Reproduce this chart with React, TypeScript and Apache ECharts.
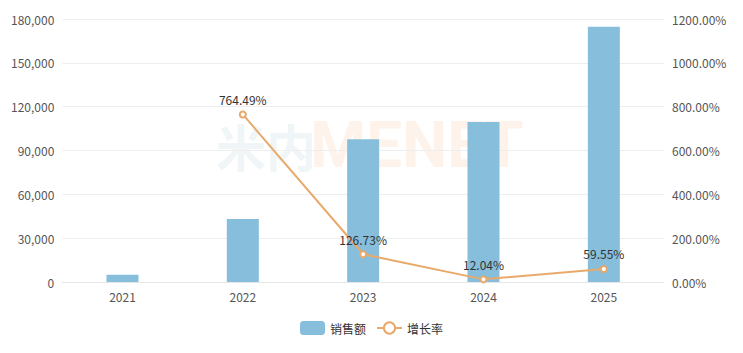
import React, { useEffect, useRef } from "react";
import * as echarts from "echarts";

const categories = ["2021", "2022", "2023", "2024", "2025"];
const salesValues = [4985, 43095, 97712, 109477, 174671];
const growthValues = [null, 764.49, 126.73, 12.04, 59.55];

export default function App() {
  const ref = useRef<HTMLDivElement>(null);
  useEffect(() => {
    const chart = echarts.init(ref.current!, null, { renderer: "svg" });
    chart.setOption({
      animation: false,
      textStyle: { fontFamily: "'Microsoft YaHei', 'Noto Sans CJK SC', sans-serif" },
      grid: { left: 54, right: 71, top: 11, bottom: 63 },
      graphic: [
        {
          type: "text",
          left: 208,
          top: 112,
          z: 0,
          style: {
            text: "米内",
            fontSize: 50,
            fontWeight: "bold",
            fontFamily: "'Noto Sans CJK SC', sans-serif",
            fill: "rgba(225,236,240,0.5)",
          },
        },
        {
          type: "text",
          left: 302,
          top: 105,
          z: 0,
          style: {
            text: "MENET",
            fontSize: 64,
            fontWeight: "bold",
            fontFamily: "Roboto, sans-serif",
            fill: "rgba(253,232,216,0.5)",
          },
        },
      ],
      legend: {
        bottom: 5,
        left: "center",
        itemWidth: 25,
        itemHeight: 14,
        itemGap: 10,
        textStyle: { color: "#333", fontSize: 12 },
        data: [
          { name: "销售额", icon: "roundRect" },
          { name: "增长率" },
        ],
      },
      xAxis: {
        type: "category",
        data: categories,
        axisLine: { lineStyle: { color: "#e6e6e6" } },
        axisTick: { show: false },
        axisLabel: { color: "#555", fontSize: 12, margin: 8 },
      },
      yAxis: [
        {
          type: "value",
          min: 0,
          max: 180000,
          interval: 30000,
          axisLine: { show: false },
          axisTick: { show: false },
          axisLabel: {
            color: "#555",
            fontSize: 12,
            formatter: (v: number) => v.toLocaleString("en-US"),
          },
          splitLine: { lineStyle: { color: "#eeeeee" } },
        },
        {
          type: "value",
          min: 0,
          max: 1200,
          interval: 200,
          axisLine: { show: false },
          axisTick: { show: false },
          axisLabel: {
            color: "#555",
            fontSize: 12,
            formatter: (v: number) => v.toFixed(2) + "%",
          },
          splitLine: { show: false },
        },
      ],
      series: [
        {
          name: "销售额",
          type: "bar",
          data: salesValues,
          barWidth: 32,
          itemStyle: { color: "#86BEDB" },
          z: 2,
        },
        {
          name: "增长率",
          type: "line",
          yAxisIndex: 1,
          data: growthValues,
          symbol: "emptyCircle",
          symbolSize: 6,
          lineStyle: { color: "#E8A96B", width: 2 },
          itemStyle: { color: "#E8A96B" },
          label: {
            show: true,
            position: "top",
            color: "#333",
            fontSize: 12,
            formatter: (p: any) => Number(p.value).toFixed(2) + "%",
          },
          z: 3,
        },
      ],
    });
    return () => chart.dispose();
  }, []);
  return <div ref={ref} style={{ width: 727, height: 337 }} />;
}
